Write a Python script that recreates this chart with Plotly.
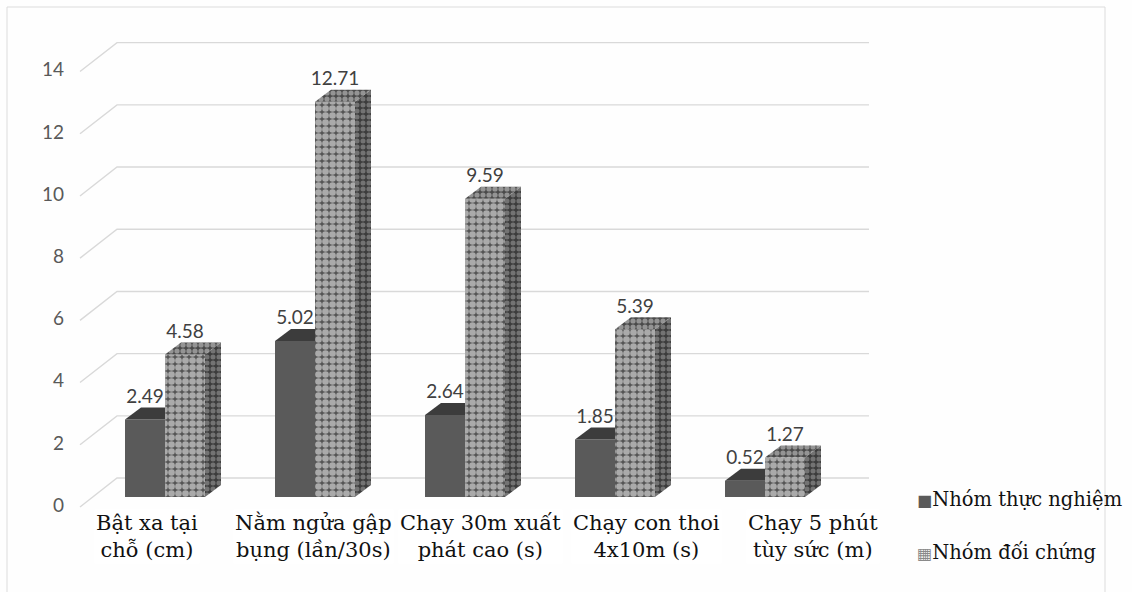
import plotly.graph_objects as go

# ---- data -------------------------------------------------------------
categories = [
    "Bật xa tại<br>chỗ (cm)",
    "Nằm ngửa gập<br>bụng (lần/30s)",
    "Chạy 30m xuất<br>phát cao (s)",
    "Chạy con thoi<br>4x10m (s)",
    "Chạy 5 phút<br>tùy sức (m)",
]
series_names = ["Nhóm thực nghiệm", "Nhóm đối chứng"]
thuc_nghiem = [2.49, 5.02, 2.64, 1.85, 0.52]
doi_chung = [4.58, 12.71, 9.59, 5.39, 1.27]
y_ticks = [0, 2, 4, 6, 8, 10, 12, 14]

# ---- geometry of the pseudo-3D view (axis units) -------------------------
W_PX, H_PX = 1132, 592
PX_PER_CAT = 150.0          # horizontal pixels per category
PX_PER_UNIT = 31.1          # vertical pixels per value unit
ORIGIN_X_PX, ORIGIN_Y_PX = 165.0, 497.0

BAR_W = 40 / PX_PER_CAT     # width of one bar face
DX = 16 / PX_PER_CAT        # depth offset, horizontal
DY = 12 / PX_PER_UNIT       # depth offset, vertical

x_range = [-ORIGIN_X_PX / PX_PER_CAT, (W_PX - ORIGIN_X_PX) / PX_PER_CAT]
y_range = [-(H_PX - ORIGIN_Y_PX) / PX_PER_UNIT, ORIGIN_Y_PX / PX_PER_UNIT]

def px_x(p):
    return (p - ORIGIN_X_PX) / PX_PER_CAT

GRID_FRONT_X, GRID_BACK_X, GRID_END_X = px_x(80), px_x(117), px_x(869)
GRID_FRONT_DY, GRID_BACK_DY = -0.32, 0.61
TICK_LABEL_X = px_x(64)

SOLID = "#5a5a5a"
SOLID_TOP = "#3c3c3c"
LABEL_COLOR = "#404040"
GRID_COLOR = "#d9d9d9"
SERIF = "DejaVu Serif"

checker_front = dict(shape=".", fgcolor="#ffffff", bgcolor="#555555", size=7, solidity=0.7)
checker_top = dict(shape=".", fgcolor="#dddddd", bgcolor="#4a4a4a", size=6, solidity=0.6)
checker_side = dict(shape=".", fgcolor="#aaaaaa", bgcolor="#3c3c3c", size=6, solidity=0.55)

idx = list(range(len(categories)))
fig = go.Figure()

# front faces
fig.add_trace(go.Bar(
    x=[i - BAR_W / 2 for i in idx], y=thuc_nghiem, width=BAR_W,
    marker=dict(color=SOLID, line=dict(width=0)), name=series_names[0],
    showlegend=False, hoverinfo="y",
))
fig.add_trace(go.Bar(
    x=[i + BAR_W / 2 for i in idx], y=doi_chung, width=BAR_W,
    marker=dict(color="#555555", pattern=checker_front, line=dict(width=0)),
    name=series_names[1], showlegend=False, hoverinfo="y",
))

# top and side faces
for i, v1, v2 in zip(idx, thuc_nghiem, doi_chung):
    # top of the solid bar, cut where the taller patterned bar hides it
    right = i if v2 >= v1 + DY else i + DX
    fig.add_trace(go.Scatter(
        x=[i - BAR_W, i - BAR_W + DX, right, i, i - BAR_W],
        y=[v1, v1 + DY, v1 + DY, v1, v1],
        fill="toself", fillcolor=SOLID_TOP, mode="lines",
        line=dict(width=0, color=SOLID_TOP), hoverinfo="skip", showlegend=False,
    ))
    # top of the patterned bar
    fig.add_trace(go.Scatter(
        x=[i, i + DX, i + BAR_W + DX, i + BAR_W, i],
        y=[v2, v2 + DY, v2 + DY, v2, v2],
        fill="toself", fillpattern=checker_top, fillcolor="#4a4a4a", mode="lines",
        line=dict(width=0, color="#555555"), hoverinfo="skip", showlegend=False,
    ))
    # right side of the patterned bar
    fig.add_trace(go.Scatter(
        x=[i + BAR_W, i + BAR_W, i + BAR_W + DX, i + BAR_W + DX, i + BAR_W],
        y=[0, v2, v2 + DY, DY, 0],
        fill="toself", fillpattern=checker_side, fillcolor="#3c3c3c", mode="lines",
        line=dict(width=0, color="#444444"), hoverinfo="skip", showlegend=False,
    ))

# value labels
label_font = dict(family="Lato", size=19, color=LABEL_COLOR)
fig.add_trace(go.Scatter(
    x=[i - BAR_W / 2 for i in idx], y=[v + DY for v in thuc_nghiem],
    mode="text", text=[f"{v:.2f}" for v in thuc_nghiem], textposition="top center",
    textfont=label_font, hoverinfo="skip", showlegend=False,
))
fig.add_trace(go.Scatter(
    x=[i + BAR_W / 2 for i in idx], y=[v + DY for v in doi_chung],
    mode="text", text=[f"{v:.2f}" for v in doi_chung], textposition="top center",
    textfont=label_font, hoverinfo="skip", showlegend=False,
))

# value-axis tick labels
fig.add_trace(go.Scatter(
    x=[TICK_LABEL_X] * len(y_ticks), y=[t + GRID_FRONT_DY for t in y_ticks],
    mode="text", text=[str(t) for t in y_ticks], textposition="middle left",
    textfont=dict(family="Lato", size=19, color="#595959"),
    hoverinfo="skip", showlegend=False,
))

# gridlines on the floor edge and back wall
shapes = []
for t in y_ticks:
    path = (f"M {GRID_FRONT_X},{t + GRID_FRONT_DY} L {GRID_BACK_X},{t + GRID_BACK_DY} "
            f"L {GRID_END_X},{t + GRID_BACK_DY}")
    shapes.append(dict(type="path", path=path, xref="x", yref="y", layer="below",
                       line=dict(color=GRID_COLOR, width=1.4)))

# outer frame
shapes.append(dict(type="rect", xref="paper", yref="paper",
                   x0=7 / W_PX, x1=1105 / W_PX, y0=-0.05, y1=1 - 7 / H_PX,
                   layer="below", line=dict(color="#dcdcdc", width=1)))

# category labels
annotations = []
cat_font = dict(family=SERIF, size=21, color="#111111")
for i, name in enumerate(categories):
    annotations.append(dict(
        x=-0.12 + 1.11 * i, xref="x", y=1 - 536 / H_PX, yref="paper",
        text=name, showarrow=False, font=cat_font,
        align="center", xanchor="center", yanchor="middle", bgcolor="#ffffff",
    ))

# legend entries
legend_icons = [
    '<span style="color:#5a5a5a;font-size:16px">■</span>',
    '<span style="color:#8a8a8a;font-size:16px">▦</span>',
]
for icon, name, ypx in zip(legend_icons, series_names, [499, 552]):
    annotations.append(dict(
        x=915 / W_PX, xref="paper", y=1 - ypx / H_PX, yref="paper",
        text=icon + name, showarrow=False,
        font=dict(family=SERIF, size=19.5, color="#111111"),
        xanchor="left", yanchor="middle",
    ))

fig.update_layout(
    width=W_PX, height=H_PX,
    margin=dict(l=0, r=0, t=0, b=0),
    paper_bgcolor="#fefefe", plot_bgcolor="rgba(0,0,0,0)",
    barmode="overlay",
    xaxis=dict(range=x_range, visible=False, fixedrange=True),
    yaxis=dict(range=y_range, visible=False, fixedrange=True),
    shapes=shapes, annotations=annotations,
    showlegend=False,
)

fig.write_html("out.html")
